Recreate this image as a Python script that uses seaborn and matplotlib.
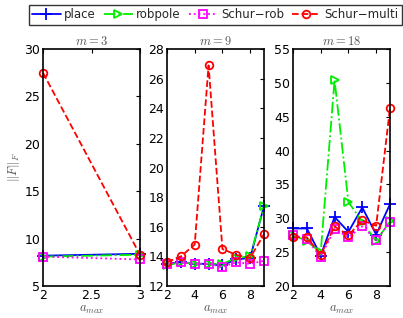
import numpy as np
import pandas as pd
import matplotlib
matplotlib.use('Agg')
import matplotlib.pyplot as plt
import seaborn as sns

METHODS = ['place', 'robpole', 'Schur\u2212rob', 'Schur\u2212multi']
COLORS  = ['#0000ff', '#00ee00', '#ff00ff', '#ff0000']
MARKERS = ['+', '>', 's', 'o']
DASHES  = ['-', '-.', ':', '--']

# m = 3
a_m3 = [2, 3]
place_m3 = [8.2, 8.4]
robpole_m3 = [8.1, 8.3]
schur_rob_m3 = [8.1, 7.8]
schur_multi_m3 = [27.5, 8.3]

# m = 9
a_m9 = [2, 3, 4, 5, 6, 7, 8, 9]
place_m9 = [13.5, 13.6, 13.5, 13.5, 13.4, 13.8, 13.9, 17.4]
robpole_m9 = [13.4, 13.6, 13.5, 13.5, 13.5, 13.9, 14.0, 17.4]
schur_rob_m9 = [13.5, 13.6, 13.5, 13.5, 13.3, 13.6, 13.5, 13.7]
schur_multi_m9 = [13.6, 14.0, 14.8, 26.9, 14.5, 14.1, 13.9, 15.5]

# m = 18
a_m18 = [2, 3, 4, 5, 6, 7, 8, 9]
place_m18 = [28.5, 28.5, 24.5, 30.2, 28.0, 31.6, 27.6, 32.1]
robpole_m18 = [27.6, 26.6, 25.0, 50.4, 32.4, 29.5, 26.6, 29.6]
schur_rob_m18 = [27.6, 26.9, 24.3, 28.4, 27.2, 28.8, 26.8, 29.4]
schur_multi_m18 = [27.2, 27.2, 24.6, 28.8, 27.5, 29.7, 28.9, 46.3]

panels = [
    ('$m=3$', a_m3, [place_m3, robpole_m3, schur_rob_m3, schur_multi_m3],
     (2, 3), [2, 2.5, 3], (5, 30), [5, 10, 15, 20, 25, 30]),
    ('$m=9$', a_m9, [place_m9, robpole_m9, schur_rob_m9, schur_multi_m9],
     (2, 9), [2, 4, 6, 8], (12, 28), [12, 14, 16, 18, 20, 22, 24, 26, 28]),
    ('$m=18$', a_m18, [place_m18, robpole_m18, schur_rob_m18, schur_multi_m18],
     (2, 9), [2, 4, 6, 8], (20, 55), [20, 25, 30, 35, 40, 45, 50, 55]),
]

sns.set_style('white')
plt.rcParams['font.family'] = ['DejaVu Sans']
plt.rcParams['mathtext.fontset'] = 'cm'

fig = plt.figure(figsize=(4.03, 3.18), dpi=100)
lefts = [43 / 403, 167 / 403, 293 / 403]
axes = [fig.add_axes([l, 0.1006, 97 / 403, 0.745]) for l in lefts]

for ax, (title, a, series, xl, xt, yl, yt) in zip(axes, panels):
    for name, vals, c, mk, ls in zip(METHODS, series, COLORS, MARKERS, DASHES):
        df = pd.DataFrame({'a': a, 'F': vals})
        sns.lineplot(data=df, x='a', y='F', ax=ax, color=c, linestyle=ls,
                     linewidth=1.3, marker=mk, markersize=5.5 if mk != '+' else 8,
                     markerfacecolor='none', markeredgecolor=c,
                     markeredgewidth=1.3, label=name, legend=False,
                     clip_on=False)
    ax.set_xlim(*xl)
    ax.set_ylim(*yl)
    ax.set_xticks(xt)
    ax.set_xticklabels([f'{v:g}' for v in xt])
    ax.set_yticks(yt)
    ax.tick_params(direction='in', top=True, right=True, length=3,
                   labelsize=9, pad=2, colors='black')
    for s in ax.spines.values():
        s.set_linewidth(1.2)
        s.set_color('black')
    ax.set_title(title, fontsize=9, color='#555555', pad=3)
    ax.set_xlabel('$a_{max}$', fontsize=9, color='#555555', labelpad=1)
    ax.set_ylabel('')

axes[0].set_ylabel('$\\|F\\|_F$', fontsize=9, color='#555555', labelpad=2)

h, l = axes[0].get_legend_handles_labels()
fig.legend(h, l, loc='upper center', bbox_to_anchor=(0.534, 0.985), ncol=4,
           fontsize=8.5, frameon=True, fancybox=False, edgecolor='black',
           handlelength=2.4, handletextpad=0.3, columnspacing=0.7,
           borderpad=0.3, borderaxespad=0)

fig.savefig('out.png', dpi=100)
